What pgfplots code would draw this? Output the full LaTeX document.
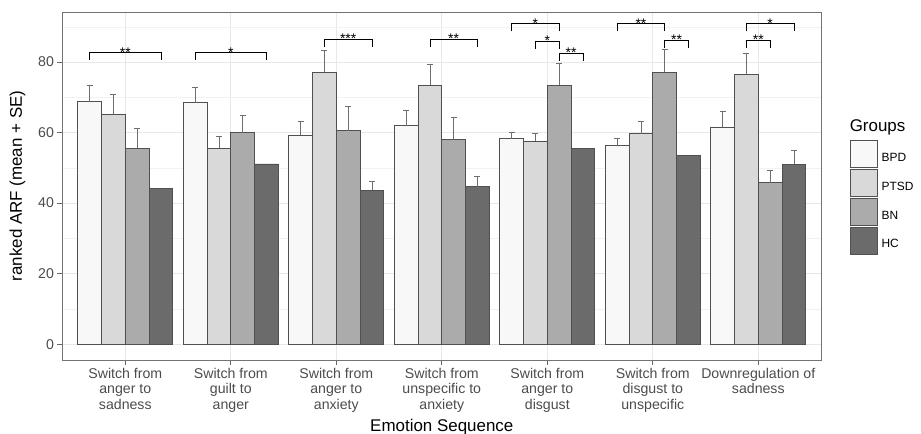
\documentclass[border=0pt]{standalone}
\usepackage{fontspec}
\setmainfont{Liberation Sans}
\usepackage{pgfplots}
\pgfplotsset{compat=1.18}

\definecolor{cBPD}{HTML}{F8F8F8}
\definecolor{cPTSD}{HTML}{D9D9D9}
\definecolor{cBN}{HTML}{ABABAB}
\definecolor{cHC}{HTML}{6B6B6B}
\definecolor{edge}{HTML}{505050}
\definecolor{errc}{HTML}{6E6E6E}

\pgfplotsset{
  groupbar/.style={ybar, bar width=0.225, bar shift=#1, draw=edge, line width=0.8bp},
  errbar/.style={forget plot, sharp plot, draw=none, mark=none, line width=0.8bp,
    error bars/y dir=plus, error bars/y explicit,
    error bars/error bar style={draw=errc, line width=0.8bp},
    error bars/error mark options={draw=errc, line width=0.8bp, mark size=3bp, rotate=90}},
  keybox/.style={legend image code/.code={\draw[##1, draw=edge, line width=0.8bp] (0bp,-9.5bp) rectangle (27bp,17.5bp);}},
  bracket/.style={sharp plot, black, line width=0.8bp, mark=none, forget plot},
}

\begin{document}
\begin{tikzpicture}
\path[use as bounding box] (-62bp,-74bp) rectangle (859bp,360bp);
\begin{axis}[
  at={(0,0)}, anchor=south west,
  width=759.6bp, height=348bp, scale only axis,
  xmin=0.4, xmax=7.6, ymin=-4.5, ymax=94.2,
  xtick={1,2,3,4,5,6,7},
  xticklabels={{Switch from\\anger to\\sadness},{Switch from\\guilt to\\anger},
    {Switch from\\anger to\\anxiety},{Switch from\\unspecific to\\anxiety},
    {Switch from\\anger to\\disgust},{Switch from\\disgust to\\unspecific},
    {Downregulation of\\sadness}},
  ytick={0,20,40,60,80}, minor ytick={10,30,50,70,90},
  grid=both,
  major grid style={color=black!9, line width=0.9bp},
  minor grid style={color=black!5, line width=0.5bp},
  axis line style={color=black!55, line width=0.8bp},
  tick align=outside, xtick pos=bottom, ytick pos=left,
  major tick length=4.5bp, minor tick length=0pt,
  tick style={color=black!60, line width=0.8bp},
  tick label style={font=\fontsize{14.2}{15.5}\selectfont, text=black!70},
  xticklabel style={align=center},
  /pgf/number format/assume math mode=true,
  xlabel={Emotion Sequence}, ylabel={ranked ARF (mean + SE)},
  label style={font=\fontsize{17}{20}\selectfont},
  ylabel style={yshift=6bp},
  legend style={at={(axis description cs:1,1)}, anchor=north west, xshift=25bp, yshift=-126bp,
    draw=none, fill=none, font=\fontsize{12}{14}\selectfont, row sep=1bp, column sep=4bp,
    nodes={inner sep=0pt}, cells={anchor=west}},
]
\addplot[groupbar=-0.3375, fill=cBPD, keybox] coordinates {
  (1,68.8) (2,68.5) (3,59.2) (4,61.9) (5,58.3) (6,56.3) (7,61.6)};
\addlegendentry{BPD}
\addplot[groupbar=-0.1125, fill=cPTSD, keybox] coordinates {
  (1,65.2) (2,55.6) (3,77.1) (4,73.4) (5,57.5) (6,59.7) (7,76.5)};
\addlegendentry{PTSD}
\addplot[groupbar=0.1125, fill=cBN, keybox] coordinates {
  (1,55.6) (2,60.0) (3,60.5) (4,58.0) (5,73.4) (6,77.1) (7,45.8)};
\addlegendentry{BN}
\addplot[groupbar=0.3375, fill=cHC, keybox] coordinates {
  (1,44.1) (2,51.1) (3,43.6) (4,44.7) (5,55.4) (6,53.4) (7,51.0)};
\addlegendentry{HC}

% error bars (mean + SE), at the centres of the dodged bars
\addplot[errbar] coordinates {
  (0.6625,68.8) +- (0,4.7) (1.6625,68.5) +- (0,4.2) (2.6625,59.2) +- (0,3.9) (3.6625,61.9) +- (0,4.4)
  (4.6625,58.3) +- (0,1.7) (5.6625,56.3) +- (0,2.0) (6.6625,61.6) +- (0,4.3)};
\addplot[errbar] coordinates {
  (0.8875,65.2) +- (0,5.6) (1.8875,55.6) +- (0,3.2) (2.8875,77.1) +- (0,6.1) (3.8875,73.4) +- (0,5.9)
  (4.8875,57.5) +- (0,2.2) (5.8875,59.7) +- (0,3.4) (6.8875,76.5) +- (0,5.9)};
\addplot[errbar] coordinates {
  (1.1125,55.6) +- (0,5.6) (2.1125,60.0) +- (0,5.0) (3.1125,60.5) +- (0,6.9) (4.1125,58.0) +- (0,6.4)
  (5.1125,73.4) +- (0,6.3) (6.1125,77.1) +- (0,6.5) (7.1125,45.8) +- (0,3.4)};
\addplot[errbar] coordinates {
  (3.3375,43.6) +- (0,2.6) (4.3375,44.7) +- (0,2.8) (7.3375,51.0) +- (0,3.9)};

% significance brackets
\addplot[bracket] coordinates {(0.6625,80.5) (0.6625,82.7) (1.3375,82.7) (1.3375,80.5)};
\addplot[bracket] coordinates {(1.6625,80.5) (1.6625,82.7) (2.3375,82.7) (2.3375,80.5)};
\addplot[bracket] coordinates {(2.8875,84.2) (2.8875,86.4) (3.3375,86.4) (3.3375,84.2)};
\addplot[bracket] coordinates {(3.8875,84.2) (3.8875,86.4) (4.3375,86.4) (4.3375,84.2)};
\addplot[bracket] coordinates {(4.6625,88.7) (4.6625,90.9) (5.1125,90.9) (5.1125,88.7)};
\addplot[bracket] coordinates {(4.8875,83.8) (4.8875,86.0) (5.1125,86.0) (5.1125,83.8)};
\addplot[bracket] coordinates {(5.1125,80.3) (5.1125,82.5) (5.3375,82.5) (5.3375,80.3)};
\addplot[bracket] coordinates {(5.6625,88.7) (5.6625,90.9) (6.1125,90.9) (6.1125,88.7)};
\addplot[bracket] coordinates {(6.1125,84.0) (6.1125,86.2) (6.3375,86.2) (6.3375,84.0)};
\addplot[bracket] coordinates {(6.8875,88.7) (6.8875,90.9) (7.3375,90.9) (7.3375,88.7)};
\addplot[bracket] coordinates {(6.8875,84.0) (6.8875,86.2) (7.1125,86.2) (7.1125,84.0)};

\begin{scope}[every node/.style={font=\fontsize{14}{16}\selectfont, anchor=base, yshift=-4.5bp, inner sep=0pt}]
\node at (axis cs:1,82.7) {**};
\node at (axis cs:2,82.7) {*};
\node at (axis cs:3.1125,86.4) {***};
\node at (axis cs:4.1125,86.4) {**};
\node at (axis cs:4.8875,90.9) {*};
\node at (axis cs:5,86.0) {*};
\node at (axis cs:5.225,82.5) {**};
\node at (axis cs:5.8875,90.9) {**};
\node at (axis cs:6.225,86.2) {**};
\node at (axis cs:7.1125,90.9) {*};
\node at (axis cs:7,86.2) {**};
\end{scope}
\end{axis}
\node[anchor=west, font=\fontsize{17}{20}\selectfont, inner sep=0pt] at ([xshift=28bp, yshift=-115bp]current axis.north east) {Groups};
\end{tikzpicture}
\end{document}
